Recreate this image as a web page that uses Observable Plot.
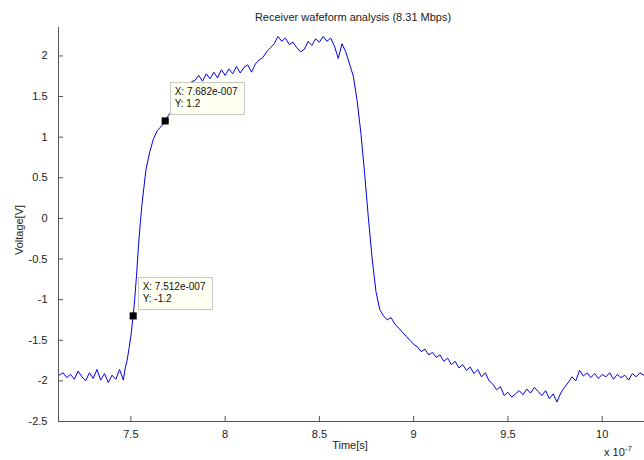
<!DOCTYPE html>
<html>
<head>
<meta charset="utf-8">
<script src="https://cdn.jsdelivr.net/npm/d3@7"></script>
<script src="https://cdn.jsdelivr.net/npm/@observablehq/plot@0.6"></script>
<style>
  html, body { margin: 0; padding: 0; background: #fff; }
  #wrap { position: relative; width: 644px; height: 460px; overflow: hidden; font-family: "Liberation Sans", Arial, sans-serif; color: #222; }
  .lbl { position: absolute; font-size: 11px; white-space: nowrap; line-height: 1; }
  .tip { position: absolute; background: #fffff2; border: 1px solid #c8c8c0; font-size: 10px; line-height: 12px; padding: 3px 5px 3px 4px; white-space: nowrap; color: #111; box-sizing: border-box; }
</style>
</head>
<body>
<div id="wrap"></div>
<script>
// Time in units of 1e-7 s, voltage in V
const time = [
  7.12, 7.14, 7.16, 7.18, 7.20, 7.22, 7.24, 7.26, 7.28, 7.30,
  7.32, 7.34, 7.36, 7.38, 7.40, 7.42, 7.44, 7.46, 7.47, 7.48,
  7.49, 7.50, 7.512, 7.52, 7.53, 7.54, 7.55, 7.56, 7.57, 7.58,
  7.60, 7.62, 7.64, 7.66, 7.682, 7.70, 7.72, 7.74, 7.76, 7.78,
  7.80, 7.82, 7.84, 7.86, 7.88, 7.90, 7.92, 7.94, 7.96, 7.98,
  8.00, 8.02, 8.04, 8.06, 8.08, 8.10, 8.12, 8.14, 8.16, 8.18,
  8.20, 8.22, 8.24, 8.26, 8.28, 8.30, 8.32, 8.34, 8.36, 8.38,
  8.40, 8.42, 8.44, 8.46, 8.48, 8.50, 8.52, 8.54, 8.56, 8.58,
  8.60, 8.62, 8.64, 8.66, 8.68, 8.70, 8.72, 8.74, 8.76, 8.78,
  8.80, 8.82, 8.84, 8.86, 8.88, 8.90, 8.92, 8.94, 8.96, 8.98,
  9.00, 9.02, 9.04, 9.06, 9.08, 9.10, 9.12, 9.14, 9.16, 9.18,
  9.20, 9.22, 9.24, 9.26, 9.28, 9.30, 9.32, 9.34, 9.36, 9.38,
  9.40, 9.42, 9.44, 9.46, 9.48, 9.50, 9.52, 9.54, 9.56, 9.58,
  9.60, 9.62, 9.64, 9.66, 9.68, 9.70, 9.72, 9.74, 9.76, 9.78,
  9.80, 9.82, 9.84, 9.86, 9.88, 9.90, 9.92, 9.94, 9.96, 9.98,
  10.00, 10.02, 10.04, 10.06, 10.08, 10.10, 10.12, 10.14, 10.16, 10.18,
  10.20, 10.22
];
const voltage = [
  -1.93, -1.90, -1.96, -1.92, -1.98, -1.88, -1.95, -2.00, -1.90, -1.97,
  -1.86, -1.99, -1.91, -2.02, -1.93, -1.98, -1.86, -1.99, -1.84, -1.75,
  -1.60, -1.45, -1.20, -1.00, -0.70, -0.35, -0.05, 0.20, 0.40, 0.60,
  0.82, 0.98, 1.08, 1.13, 1.20, 1.27, 1.33, 1.40, 1.50, 1.58,
  1.63, 1.68, 1.70, 1.76, 1.69, 1.78, 1.72, 1.80, 1.73, 1.83,
  1.76, 1.84, 1.78, 1.87, 1.79, 1.86, 1.89, 1.80, 1.90, 1.95,
  1.98, 2.05, 2.10, 2.15, 2.24, 2.18, 2.22, 2.14, 2.17, 2.10,
  2.05, 2.08, 2.18, 2.13, 2.21, 2.17, 2.24, 2.18, 2.22, 2.12,
  1.97, 2.15, 2.05, 1.90, 1.75, 1.45, 1.05, 0.55, 0.00, -0.50,
  -0.90, -1.12, -1.20, -1.25, -1.22, -1.30, -1.35, -1.40, -1.45, -1.50,
  -1.55, -1.58, -1.64, -1.61, -1.68, -1.65, -1.71, -1.68, -1.76, -1.72,
  -1.80, -1.76, -1.84, -1.80, -1.87, -1.83, -1.91, -1.86, -1.95, -1.90,
  -2.00, -2.04, -2.11, -2.07, -2.18, -2.14, -2.20, -2.16, -2.12, -2.17,
  -2.10, -2.15, -2.08, -2.13, -2.18, -2.12, -2.22, -2.16, -2.26, -2.15,
  -2.08, -2.02, -1.95, -2.00, -1.87, -1.94, -1.90, -1.96, -1.91, -1.97,
  -1.92, -1.95, -1.90, -1.98, -1.92, -1.96, -1.93, -1.99, -1.91, -1.95,
  -1.90, -1.93
];
const xTicks = [7.5, 8, 8.5, 9, 9.5, 10];
const yTicks = [-2.5, -2, -1.5, -1, -0.5, 0, 0.5, 1, 1.5, 2];
const tipTimes = [7.682, 7.512];
const tipVolts = [1.2, -1.2];
const tipLabels = ["7.682e-007", "7.512e-007"];

const data = time.map((t, i) => ({t, v: voltage[i]}));
const tips = tipTimes.map((t, i) => ({t, v: tipVolts[i], label: tipLabels[i]}));

const font = '"Liberation Sans", Arial, sans-serif';
const plot = Plot.plot({
  width: 644,
  height: 460,
  marginLeft: 58,
  marginRight: 0,
  marginTop: 27,
  marginBottom: 39,
  style: {fontFamily: font, fontSize: "11px", color: "#222", background: "#fff"},
  x: {domain: [7.116, 10.2245]},
  y: {domain: [-2.5, 2.35]},
  marks: [
    Plot.axisX({ticks: xTicks, tickSize: -5, tickPadding: 14, tickFormat: d => String(d), label: null, stroke: "#555", fontSize: 11}),
    Plot.axisY({ticks: yTicks, tickSize: -5, tickPadding: 16, tickFormat: d => String(d), label: null, stroke: "#555", fontSize: 11}),
    Plot.ruleY([-2.5], {stroke: "#555"}),
    Plot.ruleX([7.116], {stroke: "#555"}),
    Plot.line(data, {x: "t", y: "v", stroke: "#0000e6", strokeWidth: 1}),
    Plot.dot(tips, {x: "t", y: "v", symbol: "square", r: 4, fill: "#000", stroke: "none"})
  ]
});

const wrap = document.getElementById("wrap");
plot.style.position = "absolute";
plot.style.left = "0";
plot.style.top = "0";
wrap.appendChild(plot);

function addLabel(html, css) {
  const d = document.createElement("div");
  d.className = "lbl";
  d.innerHTML = html;
  Object.assign(d.style, css);
  wrap.appendChild(d);
  return d;
}
addLabel("Receiver wafeform analysis (8.31 Mbps)", {left: "353px", top: "12px", transform: "translateX(-50%)"});
addLabel("Time[s]", {left: "350px", top: "440px", transform: "translateX(-50%)"});
addLabel("Voltage[V]", {left: "19px", top: "230px", transform: "translate(-50%,-50%) rotate(-90deg)"});
addLabel("x 10<sup style='font-size:8px;vertical-align:5px'>-7</sup>", {left: "604px", top: "445px"});

const sx = plot.scale("x"), sy = plot.scale("y");
tips.forEach(tp => {
  const px = sx.apply(tp.t), py = sy.apply(tp.v);
  const b = document.createElement("div");
  b.className = "tip";
  b.innerHTML = "X: " + tp.label + "<br>Y: " + tp.v;
  Object.assign(b.style, {left: (px + 5) + "px", top: (py - 38) + "px", width: "75px", height: "33px"});
  wrap.appendChild(b);
});
</script>
</body>
</html>
